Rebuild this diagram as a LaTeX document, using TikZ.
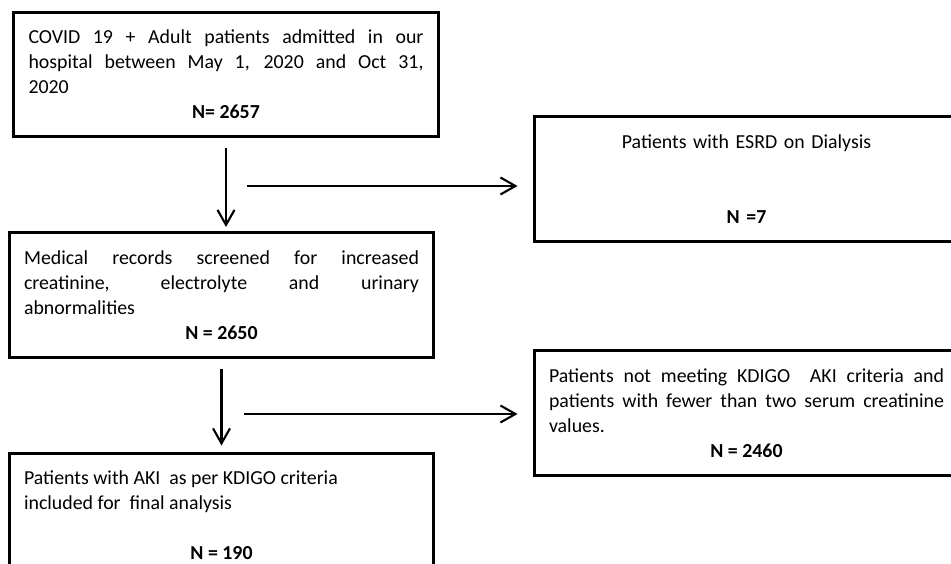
\documentclass[tikz,border=0pt]{standalone}
\usepackage{fontspec}
\setmainfont{Carlito}
\usepackage{tikz}
\usetikzlibrary{arrows,arrows.meta}
\tikzstyle{box}=[draw, line width=1.7pt, text width=7.9cm, inner xsep=0.3cm, minimum height=2.5cm, align=justify, font=\fontsize{11.3}{14.2}\selectfont]
\tikzstyle{line} = [draw, line width=1.2pt, -{Straight Barb[length=3mm,width=3.4mm]}]

\begin{document}
\begin{tikzpicture}[x=0.02cm,y=-0.02cm]
  \tikzstyle{box}=[draw, line width=1.7pt, text width=7.9cm, inner xsep=0.3cm, minimum height=2.5cm, align=justify, font=\fontsize{11.3}{14.2}\selectfont]
  \tikzstyle{line} = [draw, line width=1.2pt, -{Straight Barb[length=3mm,width=3.4mm]}]
  \useasboundingbox (0,0) rectangle (951,564);
  \clip (0,0) rectangle (951,564);
  % main column
  \node[box] (cohort) at (226,74.5) {COVID 19 + Adult patients admitted in our\linebreak hospital between May 1, 2020 and Oct 31,\linebreak 2020\par{\centering\textbf{N= 2657}\par}};
  \node[box] (screened) at (221.5,295) {Medical records screened for increased\linebreak creatinine, electrolyte and urinary\linebreak abnormalities\par{\centering\textbf{N = 2650}\par}};
  \node[box] (included) at (221.5,515.5) {Patients with AKI\ \ as per KDIGO criteria\newline included for\ \ final analysis\par~\par{\centering\textbf{N = 190}\par}};
  % excluded
  \node[box,align=center] (esrd) at (746.5,179) {Patients with ESRD on Dialysis\\[1cm]\textbf{N =7}};
  \node[box] (notmet) at (746.5,413) {Patients not meeting KDIGO\ \ AKI criteria and\linebreak patients with fewer than two serum creatinine\linebreak values.\par{\centering\textbf{N = 2460}\par}};
  % arrows
  \coordinate (split1) at (247,186);
  \coordinate (split2) at (244,414);
  \draw[line,shorten <=0.2cm,shorten >=0.08cm] (cohort.south) -- (cohort.south |- screened.north);
  \draw[line,shorten <=0.2cm,shorten >=0.12cm] (screened.south) -- (screened.south |- included.north);
  \draw[line,shorten >=0.3cm] (split1) -- (split1 -| esrd.west);
  \draw[line,shorten >=0.3cm] (split2) -- (split2 -| notmet.west);
\end{tikzpicture}
\end{document}
